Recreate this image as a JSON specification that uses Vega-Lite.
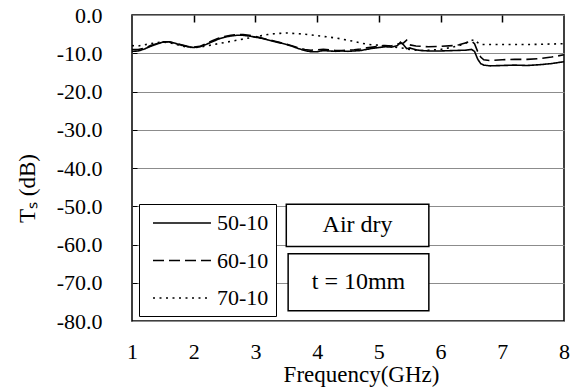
{
  "$schema": "https://vega.github.io/schema/vega-lite/v6.json",
  "width": 432,
  "height": 306,
  "autosize": "none",
  "padding": {"left": 132, "top": 15, "right": 12, "bottom": 71},
  "background": "white",
  "config": {
    "view": {"stroke": "black", "strokeWidth": 1.5},
    "font": "Liberation Serif, Times New Roman, serif",
    "axis": {"labelFont": "Liberation Serif, Times New Roman, serif", "titleFont": "Liberation Serif, Times New Roman, serif", "labelColor": "black", "titleColor": "black", "titleFontWeight": "normal"}
  },
  "resolve": {"axis": {"x": "independent", "y": "independent"}},
  "layer": [
    {
      "data": {"values": [
        {"f":1.0,"ts":-9.5,"s":"50-10"},{"f":1.1,"ts":-9.4,"s":"50-10"},{"f":1.2,"ts":-8.9,"s":"50-10"},{"f":1.3,"ts":-8.2,"s":"50-10"},{"f":1.4,"ts":-7.6,"s":"50-10"},{"f":1.5,"ts":-7.1,"s":"50-10"},{"f":1.6,"ts":-7.0,"s":"50-10"},{"f":1.7,"ts":-7.4,"s":"50-10"},{"f":1.8,"ts":-7.9,"s":"50-10"},{"f":1.9,"ts":-8.3,"s":"50-10"},{"f":2.0,"ts":-8.5,"s":"50-10"},{"f":2.1,"ts":-8.3,"s":"50-10"},{"f":2.2,"ts":-7.7,"s":"50-10"},{"f":2.3,"ts":-7.0,"s":"50-10"},{"f":2.4,"ts":-6.3,"s":"50-10"},{"f":2.5,"ts":-5.8,"s":"50-10"},{"f":2.6,"ts":-5.5,"s":"50-10"},{"f":2.7,"ts":-5.3,"s":"50-10"},{"f":2.8,"ts":-5.3,"s":"50-10"},{"f":2.9,"ts":-5.5,"s":"50-10"},{"f":3.0,"ts":-5.8,"s":"50-10"},{"f":3.1,"ts":-6.1,"s":"50-10"},{"f":3.2,"ts":-6.5,"s":"50-10"},{"f":3.3,"ts":-6.9,"s":"50-10"},{"f":3.4,"ts":-7.3,"s":"50-10"},{"f":3.5,"ts":-7.7,"s":"50-10"},{"f":3.6,"ts":-8.2,"s":"50-10"},{"f":3.7,"ts":-8.8,"s":"50-10"},{"f":3.8,"ts":-9.3,"s":"50-10"},{"f":3.9,"ts":-9.6,"s":"50-10"},{"f":4.0,"ts":-9.6,"s":"50-10"},{"f":4.1,"ts":-9.3,"s":"50-10"},{"f":4.2,"ts":-9.4,"s":"50-10"},{"f":4.3,"ts":-9.5,"s":"50-10"},{"f":4.4,"ts":-9.4,"s":"50-10"},{"f":4.5,"ts":-9.5,"s":"50-10"},{"f":4.6,"ts":-9.4,"s":"50-10"},{"f":4.7,"ts":-9.3,"s":"50-10"},{"f":4.8,"ts":-9.0,"s":"50-10"},{"f":4.9,"ts":-8.7,"s":"50-10"},{"f":5.0,"ts":-8.5,"s":"50-10"},{"f":5.1,"ts":-8.3,"s":"50-10"},{"f":5.2,"ts":-8.4,"s":"50-10"},{"f":5.3,"ts":-8.0,"s":"50-10"},{"f":5.35,"ts":-7.1,"s":"50-10"},{"f":5.4,"ts":-7.8,"s":"50-10"},{"f":5.45,"ts":-8.8,"s":"50-10"},{"f":5.5,"ts":-8.6,"s":"50-10"},{"f":5.6,"ts":-9.1,"s":"50-10"},{"f":5.7,"ts":-9.3,"s":"50-10"},{"f":5.8,"ts":-9.4,"s":"50-10"},{"f":6.0,"ts":-9.4,"s":"50-10"},{"f":6.2,"ts":-9.3,"s":"50-10"},{"f":6.4,"ts":-9.2,"s":"50-10"},{"f":6.5,"ts":-9.0,"s":"50-10"},{"f":6.55,"ts":-9.5,"s":"50-10"},{"f":6.6,"ts":-11.5,"s":"50-10"},{"f":6.65,"ts":-12.7,"s":"50-10"},{"f":6.7,"ts":-13.1,"s":"50-10"},{"f":6.8,"ts":-13.3,"s":"50-10"},{"f":7.0,"ts":-13.2,"s":"50-10"},{"f":7.2,"ts":-13.1,"s":"50-10"},{"f":7.4,"ts":-13.2,"s":"50-10"},{"f":7.6,"ts":-13.0,"s":"50-10"},{"f":7.8,"ts":-12.7,"s":"50-10"},{"f":8.0,"ts":-12.2,"s":"50-10"},
        {"f":1.0,"ts":-9.0,"s":"60-10"},{"f":1.1,"ts":-9.0,"s":"60-10"},{"f":1.2,"ts":-8.7,"s":"60-10"},{"f":1.3,"ts":-8.0,"s":"60-10"},{"f":1.4,"ts":-7.5,"s":"60-10"},{"f":1.5,"ts":-7.0,"s":"60-10"},{"f":1.6,"ts":-7.0,"s":"60-10"},{"f":1.7,"ts":-7.4,"s":"60-10"},{"f":1.8,"ts":-7.8,"s":"60-10"},{"f":1.9,"ts":-8.2,"s":"60-10"},{"f":2.0,"ts":-8.4,"s":"60-10"},{"f":2.1,"ts":-8.2,"s":"60-10"},{"f":2.2,"ts":-7.5,"s":"60-10"},{"f":2.3,"ts":-6.7,"s":"60-10"},{"f":2.4,"ts":-6.1,"s":"60-10"},{"f":2.5,"ts":-5.6,"s":"60-10"},{"f":2.6,"ts":-5.3,"s":"60-10"},{"f":2.7,"ts":-5.1,"s":"60-10"},{"f":2.8,"ts":-5.1,"s":"60-10"},{"f":2.9,"ts":-5.3,"s":"60-10"},{"f":3.0,"ts":-5.6,"s":"60-10"},{"f":3.1,"ts":-6.0,"s":"60-10"},{"f":3.2,"ts":-6.4,"s":"60-10"},{"f":3.3,"ts":-6.8,"s":"60-10"},{"f":3.4,"ts":-7.2,"s":"60-10"},{"f":3.5,"ts":-7.6,"s":"60-10"},{"f":3.6,"ts":-8.1,"s":"60-10"},{"f":3.7,"ts":-8.6,"s":"60-10"},{"f":3.8,"ts":-9.0,"s":"60-10"},{"f":3.9,"ts":-9.2,"s":"60-10"},{"f":4.0,"ts":-9.1,"s":"60-10"},{"f":4.1,"ts":-9.0,"s":"60-10"},{"f":4.2,"ts":-9.1,"s":"60-10"},{"f":4.3,"ts":-9.3,"s":"60-10"},{"f":4.4,"ts":-9.3,"s":"60-10"},{"f":4.5,"ts":-9.2,"s":"60-10"},{"f":4.6,"ts":-9.1,"s":"60-10"},{"f":4.7,"ts":-8.9,"s":"60-10"},{"f":4.8,"ts":-8.6,"s":"60-10"},{"f":4.9,"ts":-8.4,"s":"60-10"},{"f":5.0,"ts":-8.2,"s":"60-10"},{"f":5.1,"ts":-8.0,"s":"60-10"},{"f":5.2,"ts":-8.1,"s":"60-10"},{"f":5.3,"ts":-7.6,"s":"60-10"},{"f":5.4,"ts":-7.3,"s":"60-10"},{"f":5.45,"ts":-6.6,"s":"60-10"},{"f":5.5,"ts":-7.8,"s":"60-10"},{"f":5.6,"ts":-8.1,"s":"60-10"},{"f":5.8,"ts":-8.3,"s":"60-10"},{"f":6.0,"ts":-8.2,"s":"60-10"},{"f":6.2,"ts":-8.0,"s":"60-10"},{"f":6.3,"ts":-7.8,"s":"60-10"},{"f":6.4,"ts":-7.3,"s":"60-10"},{"f":6.5,"ts":-6.8,"s":"60-10"},{"f":6.55,"ts":-7.5,"s":"60-10"},{"f":6.6,"ts":-9.5,"s":"60-10"},{"f":6.65,"ts":-11.0,"s":"60-10"},{"f":6.7,"ts":-11.7,"s":"60-10"},{"f":6.8,"ts":-11.9,"s":"60-10"},{"f":7.0,"ts":-11.7,"s":"60-10"},{"f":7.2,"ts":-11.6,"s":"60-10"},{"f":7.4,"ts":-11.6,"s":"60-10"},{"f":7.6,"ts":-11.4,"s":"60-10"},{"f":7.8,"ts":-11.0,"s":"60-10"},{"f":8.0,"ts":-10.4,"s":"60-10"},
        {"f":1.0,"ts":-8.0,"s":"70-10"},{"f":1.1,"ts":-8.1,"s":"70-10"},{"f":1.2,"ts":-7.8,"s":"70-10"},{"f":1.3,"ts":-7.5,"s":"70-10"},{"f":1.4,"ts":-7.2,"s":"70-10"},{"f":1.5,"ts":-7.1,"s":"70-10"},{"f":1.6,"ts":-7.2,"s":"70-10"},{"f":1.7,"ts":-7.6,"s":"70-10"},{"f":1.8,"ts":-8.1,"s":"70-10"},{"f":1.9,"ts":-8.4,"s":"70-10"},{"f":2.0,"ts":-8.5,"s":"70-10"},{"f":2.1,"ts":-8.4,"s":"70-10"},{"f":2.2,"ts":-8.1,"s":"70-10"},{"f":2.3,"ts":-7.8,"s":"70-10"},{"f":2.4,"ts":-7.5,"s":"70-10"},{"f":2.5,"ts":-7.2,"s":"70-10"},{"f":2.6,"ts":-6.9,"s":"70-10"},{"f":2.7,"ts":-6.6,"s":"70-10"},{"f":2.8,"ts":-6.3,"s":"70-10"},{"f":2.9,"ts":-6.0,"s":"70-10"},{"f":3.0,"ts":-5.7,"s":"70-10"},{"f":3.1,"ts":-5.4,"s":"70-10"},{"f":3.2,"ts":-5.1,"s":"70-10"},{"f":3.3,"ts":-4.9,"s":"70-10"},{"f":3.4,"ts":-4.8,"s":"70-10"},{"f":3.5,"ts":-4.7,"s":"70-10"},{"f":3.6,"ts":-4.8,"s":"70-10"},{"f":3.7,"ts":-4.9,"s":"70-10"},{"f":3.8,"ts":-5.0,"s":"70-10"},{"f":3.9,"ts":-5.2,"s":"70-10"},{"f":4.0,"ts":-5.4,"s":"70-10"},{"f":4.1,"ts":-5.6,"s":"70-10"},{"f":4.2,"ts":-5.8,"s":"70-10"},{"f":4.3,"ts":-6.0,"s":"70-10"},{"f":4.4,"ts":-6.3,"s":"70-10"},{"f":4.5,"ts":-6.6,"s":"70-10"},{"f":4.6,"ts":-6.9,"s":"70-10"},{"f":4.7,"ts":-7.3,"s":"70-10"},{"f":4.8,"ts":-7.6,"s":"70-10"},{"f":4.9,"ts":-7.8,"s":"70-10"},{"f":5.0,"ts":-7.9,"s":"70-10"},{"f":5.1,"ts":-8.0,"s":"70-10"},{"f":5.2,"ts":-8.2,"s":"70-10"},{"f":5.3,"ts":-8.5,"s":"70-10"},{"f":5.4,"ts":-8.7,"s":"70-10"},{"f":5.5,"ts":-9.0,"s":"70-10"},{"f":5.6,"ts":-9.2,"s":"70-10"},{"f":5.7,"ts":-9.3,"s":"70-10"},{"f":5.8,"ts":-9.2,"s":"70-10"},{"f":5.9,"ts":-9.1,"s":"70-10"},{"f":6.0,"ts":-9.0,"s":"70-10"},{"f":6.1,"ts":-8.7,"s":"70-10"},{"f":6.2,"ts":-8.4,"s":"70-10"},{"f":6.3,"ts":-8.0,"s":"70-10"},{"f":6.4,"ts":-7.4,"s":"70-10"},{"f":6.5,"ts":-6.7,"s":"70-10"},{"f":6.55,"ts":-6.4,"s":"70-10"},{"f":6.6,"ts":-7.2,"s":"70-10"},{"f":6.65,"ts":-7.7,"s":"70-10"},{"f":6.8,"ts":-7.7,"s":"70-10"},{"f":7.0,"ts":-7.7,"s":"70-10"},{"f":7.5,"ts":-7.7,"s":"70-10"},{"f":8.0,"ts":-7.5,"s":"70-10"}
      ]},
      "mark": {"type": "line", "color": "black", "clip": true},
      "encoding": {
        "x": {"field": "f", "type": "quantitative", "scale": {"domain": [1, 8], "nice": false},
              "axis": {"orient": "bottom", "values": [1,2,3,4,5,6,7,8], "ticks": false, "domain": false, "grid": false, "labelFontSize": 22, "labelPadding": 20, "labelFlush": false,
                       "title": "Frequency(GHz)", "titleFontSize": 23, "titleColor": "black", "titleBaseline": "alphabetic", "titleX": 229, "titleY": 60}},
        "y": {"field": "ts", "type": "quantitative", "scale": {"domain": [-80, 0], "nice": false},
              "axis": {"orient": "left", "values": [-80,-70,-60,-50,-40,-30,-20,-10,0], "labelExpr": "replace(format(datum.value, '.1f'), '\u2212', '-')", "labelFontSize": 22, "labelPadding": 30, "ticks": false, "domain": false, "grid": true, "gridColor": "#8c8c8c", "gridWidth": 1,
                       "title": "Tₛ (dB)", "titleFontSize": 23, "titleColor": "black", "titleAngle": -90, "titleBaseline": "alphabetic", "titleX": -98, "titleY": 173}},
        "strokeWidth": {"field": "s", "type": "nominal", "scale": {"domain": ["50-10","60-10","70-10"], "range": [1.6, 1.6, 2.2]}, "legend": null},
        "strokeDash": {"field": "s", "type": "nominal", "scale": {"domain": ["50-10","60-10","70-10"], "range": [[1,0],[11,5],[2,4.5]]},
                       "legend": {"orient": "none", "legendX": 7, "legendY": 189, "title": null, "symbolType": "M-1,0H4.27", "symbolSize": 484, "symbolOffset": 6, "symbolStrokeWidth": 1.6, "symbolStrokeColor": "black", "symbolFillColor": "transparent", "labelFont": "Liberation Serif, Times New Roman, serif", "labelFontSize": 22, "labelColor": "black", "labelOffset": 41, "strokeColor": "black", "fillColor": "white", "padding": 7, "rowPadding": 14.5}}
      }
    },
    {
      "data": {"values": [{}]},
      "mark": {"type": "rect", "fill": "white", "stroke": "black", "strokeWidth": 1.5},
      "encoding": {
        "x": {"datum": 3.5, "type": "quantitative", "axis": {"orient": "top", "offset": -7, "values": [2,3,4,5,6,7], "labels": false, "domain": false, "grid": false, "ticks": true, "tickSize": 7, "tickColor": "black", "tickWidth": 1.5, "title": null}},
        "x2": {"datum": 5.81},
        "y": {"datum": -49.5, "type": "quantitative", "axis": {"orient": "left", "offset": -5, "values": [-70,-60,-50,-40,-30,-20,-10], "labels": false, "domain": false, "grid": false, "ticks": true, "tickSize": 5, "tickColor": "black", "tickWidth": 1, "title": null}},
        "y2": {"datum": -60.5}
      }
    },
    {
      "data": {"values": [{}]},
      "mark": {"type": "text", "text": "Air dry", "font": "Liberation Serif, Times New Roman, serif", "fontSize": 24, "color": "black", "align": "center", "baseline": "middle"},
      "encoding": {
        "x": {"datum": 4.655, "type": "quantitative", "axis": null},
        "y": {"datum": -55.0, "type": "quantitative", "axis": null}
      }
    },
    {
      "data": {"values": [{}]},
      "mark": {"type": "rect", "fill": "white", "stroke": "black", "strokeWidth": 1.5},
      "encoding": {
        "x": {"datum": 3.53, "type": "quantitative", "axis": null},
        "x2": {"datum": 5.81},
        "y": {"datum": -62.4, "type": "quantitative", "axis": null},
        "y2": {"datum": -77.3}
      }
    },
    {
      "data": {"values": [{}]},
      "mark": {"type": "text", "text": "t = 10mm", "font": "Liberation Serif, Times New Roman, serif", "fontSize": 24, "color": "black", "align": "center", "baseline": "middle"},
      "encoding": {
        "x": {"datum": 4.67, "type": "quantitative", "axis": null},
        "y": {"datum": -69.8, "type": "quantitative", "axis": null}
      }
    }
  ]
}
